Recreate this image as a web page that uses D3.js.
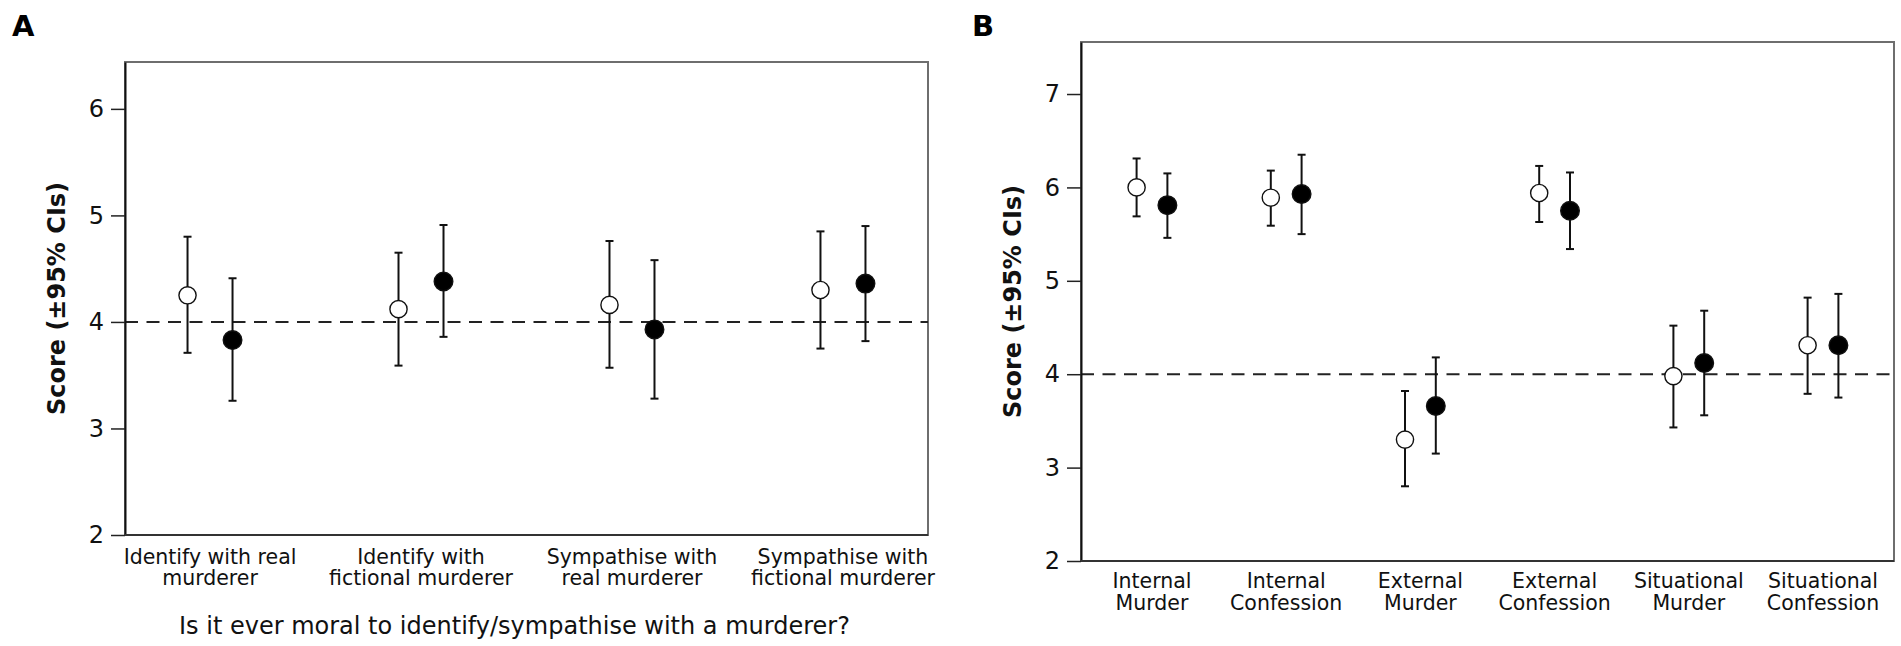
<!DOCTYPE html>
<html>
<head>
<meta charset="utf-8">
<script src="https://cdn.jsdelivr.net/npm/d3@7"></script>
<style>
  body { margin: 0; background: #fff; }
  svg { display: block; font-family: "DejaVu Sans", Verdana, sans-serif; }
</style>
</head>
<body>
<svg id="chart" width="1901" height="646"></svg>
<script>
// Panel A data
var catsA = [["Identify with real", "murderer"], ["Identify with", "fictional murderer"],
             ["Sympathise with", "real murderer"], ["Sympathise with", "fictional murderer"]];
var openMeanA = [4.25, 4.12, 4.16, 4.30];
var openLoA   = [3.71, 3.59, 3.57, 3.75];
var openHiA   = [4.80, 4.65, 4.76, 4.85];
var fillMeanA = [3.83, 4.38, 3.93, 4.36];
var fillLoA   = [3.26, 3.86, 3.28, 3.82];
var fillHiA   = [4.41, 4.91, 4.58, 4.90];
var ticksA = [2, 3, 4, 5, 6];

// Panel B data
var catsB = [["Internal", "Murder"], ["Internal", "Confession"], ["External", "Murder"],
             ["External", "Confession"], ["Situational", "Murder"], ["Situational", "Confession"]];
var openMeanB = [6.00, 5.89, 3.30, 5.94, 3.98, 4.31];
var openLoB   = [5.69, 5.59, 2.80, 5.63, 3.43, 3.79];
var openHiB   = [6.31, 6.18, 3.82, 6.23, 4.52, 4.82];
var fillMeanB = [5.81, 5.93, 3.66, 5.75, 4.12, 4.31];
var fillLoB   = [5.46, 5.50, 3.15, 5.34, 3.56, 3.75];
var fillHiB   = [6.15, 6.35, 4.18, 6.16, 4.68, 4.86];
var ticksB = [2, 3, 4, 5, 6, 7];

var svg = d3.select('#chart');

function panel(p) {
	var x = d3.scalePoint().domain(p.cats.map(function(d, i) {return i;}))
		.range([p.left, p.right]).padding(p.pad);
	var y = d3.scaleLinear().domain(p.ydom).range([p.bottom, p.top]);
	var g = svg.append('g');

	// frame (top / right in grey)
	g.append('rect')
		.attr('x', p.left).attr('y', p.top)
		.attr('width', p.right - p.left).attr('height', p.bottom - p.top)
		.attr('fill', 'none').attr('stroke', '#6e6e6e').attr('stroke-width', 2);

	// reference line at 4
	g.append('line')
		.attr('x1', p.left).attr('x2', p.right)
		.attr('y1', y(4)).attr('y2', y(4))
		.attr('stroke', '#222').attr('stroke-width', 2)
		.attr('stroke-dasharray', '13,8.5');

	// y axis
	var ya = g.append('g')
		.attr('transform', 'translate(' + p.left + ',0)')
		.call(d3.axisLeft(y).tickValues(p.ticks).tickSizeInner(14).tickSizeOuter(0)
			.tickPadding(7).tickFormat(d3.format('d')));
	ya.select('.domain').attr('stroke', '#111').attr('stroke-width', 2);
	ya.selectAll('.tick line').attr('stroke', '#222').attr('stroke-width', 1.5);
	ya.selectAll('.tick text').attr('font-size', 24).attr('fill', '#111')
		.style('font-family', '"DejaVu Sans", sans-serif');

	// bottom axis line
	g.append('line')
		.attr('x1', p.left).attr('x2', p.right)
		.attr('y1', p.bottom).attr('y2', p.bottom)
		.attr('stroke', '#333').attr('stroke-width', 2);

	// category labels
	var lab = g.selectAll('text.cat').data(p.cats).enter().append('text')
		.attr('class', 'cat')
		.attr('text-anchor', 'middle')
		.attr('font-size', 20.5).attr('fill', '#111')
		.attr('transform', function(d, i) {return 'translate(' + x(i) + ',' + (p.bottom + p.labOff) + ')';});
	lab.selectAll('tspan').data(function(d) {return d;}).enter().append('tspan')
		.attr('x', 0).attr('y', function(d, i) {return i * p.lineH;})
		.text(function(d) {return d;});

	// series: open then filled
	var series = [
		{mean: p.openMean, lo: p.openLo, hi: p.openHi, dx: -p.off, fill: '#fff'},
		{mean: p.fillMean, lo: p.fillLo, hi: p.fillHi, dx: p.off, fill: '#000'}
	];
	series.forEach(function(s) {
		var pts = s.mean.map(function(m, i) {return {i: i, m: m, lo: s.lo[i], hi: s.hi[i]};});
		var sg = g.append('g');
		sg.selectAll('line.bar').data(pts).enter().append('line')
			.attr('x1', function(d) {return x(d.i) + s.dx;})
			.attr('x2', function(d) {return x(d.i) + s.dx;})
			.attr('y1', function(d) {return y(d.lo);})
			.attr('y2', function(d) {return y(d.hi);})
			.attr('stroke', '#111').attr('stroke-width', 2);
		['lo', 'hi'].forEach(function(k) {
			sg.selectAll('line.cap' + k).data(pts).enter().append('line')
				.attr('x1', function(d) {return x(d.i) + s.dx - 4;})
				.attr('x2', function(d) {return x(d.i) + s.dx + 4;})
				.attr('y1', function(d) {return y(d[k]);})
				.attr('y2', function(d) {return y(d[k]);})
				.attr('stroke', '#111').attr('stroke-width', 2);
		});
		sg.selectAll('circle').data(pts).enter().append('circle')
			.attr('cx', function(d) {return x(d.i) + s.dx;})
			.attr('cy', function(d) {return y(d.m);})
			.attr('r', s.fill == '#000' ? 9.3 : 8.6)
			.attr('fill', s.fill).attr('stroke', '#111').attr('stroke-width', 1.4);
	});

	// y title
	g.append('text')
		.attr('transform', 'translate(' + p.ytx + ',' + ((p.top + p.bottom) / 2) + ') rotate(-90)')
		.attr('text-anchor', 'middle').attr('font-size', 24).attr('font-weight', 'bold')
		.attr('fill', '#111')
		.text('Score (\u00b195% CIs)');

	// panel letter
	g.append('text')
		.attr('x', p.letterX).attr('y', 36)
		.attr('font-size', 29).attr('font-weight', 'bold').attr('fill', '#000')
		.text(p.letter);

	if (p.xtitle) {
		g.append('text')
			.attr('x', (p.left + p.right) / 2 - 12).attr('y', 634)
			.attr('text-anchor', 'middle').attr('font-size', 24).attr('fill', '#111')
			.text(p.xtitle);
	}
}

panel({
	letter: 'A', letterX: 12,
	cats: catsA, openMean: openMeanA, openLo: openLoA, openHi: openHiA,
	fillMean: fillMeanA, fillLo: fillLoA, fillHi: fillHiA, ticks: ticksA,
	left: 125, right: 928, top: 62, bottom: 535, ydom: [2, 6.44], pad: 0.403, off: 22.5,
	labOff: 29, lineH: 21, ytx: 65,
	xtitle: 'Is it ever moral to identify/sympathise with a murderer?'
});

panel({
	letter: 'B', letterX: 972,
	cats: catsB, openMean: openMeanB, openLo: openLoB, openHi: openHiB,
	fillMean: fillMeanB, fillLo: fillLoB, fillHi: fillHiB, ticks: ticksB,
	left: 1081, right: 1894, top: 42, bottom: 561, ydom: [2, 7.557], pad: 0.529, off: 15.4,
	labOff: 27, lineH: 21.7, ytx: 1021
});
</script>
</body>
</html>
